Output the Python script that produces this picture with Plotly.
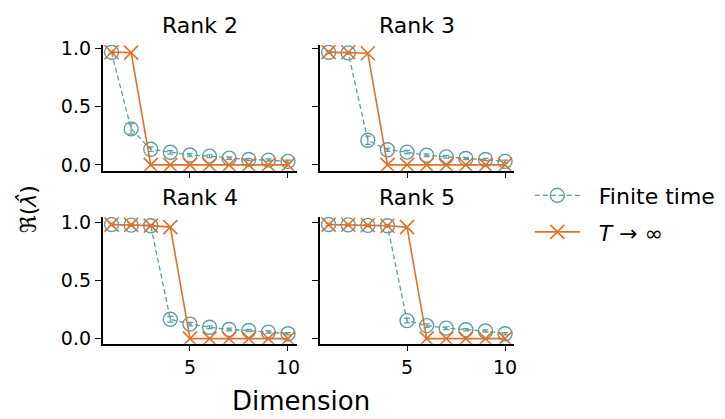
import plotly.graph_objects as go

dims = [1, 2, 3, 4, 5, 6, 7, 8, 9, 10]
titles = ["Rank 2", "Rank 3", "Rank 4", "Rank 5"]

finite_r2 = [0.97, 0.31, 0.135, 0.108, 0.085, 0.075, 0.058, 0.046, 0.041, 0.03]
finite_r3 = [0.97, 0.965, 0.212, 0.13, 0.11, 0.083, 0.069, 0.055, 0.046, 0.03]
finite_r4 = [0.985, 0.98, 0.975, 0.167, 0.125, 0.098, 0.079, 0.07, 0.056, 0.042]
finite_r5 = [0.985, 0.982, 0.978, 0.975, 0.155, 0.112, 0.09, 0.076, 0.065, 0.042]

err_r2 = [0.01, 0.045, 0.02, 0.015, 0.015, 0.012, 0.012, 0.01, 0.01, 0.01]
err_r3 = [0.01, 0.01, 0.035, 0.015, 0.015, 0.012, 0.012, 0.01, 0.01, 0.01]
err_r4 = [0.01, 0.01, 0.01, 0.025, 0.015, 0.012, 0.012, 0.01, 0.01, 0.01]
err_r5 = [0.01, 0.01, 0.01, 0.01, 0.02, 0.015, 0.012, 0.01, 0.01, 0.01]

inf_r2 = [0.97, 0.967, 0, 0, 0, 0, 0, 0, 0, 0]
inf_r3 = [0.972, 0.97, 0.962, 0, 0, 0, 0, 0, 0, 0]
inf_r4 = [0.985, 0.982, 0.976, 0.963, 0, 0, 0, 0, 0, 0]
inf_r5 = [0.985, 0.983, 0.979, 0.975, 0.963, 0, 0, 0, 0, 0]

finite = [finite_r2, finite_r3, finite_r4, finite_r5]
errs = [err_r2, err_r3, err_r4, err_r5]
infs = [inf_r2, inf_r3, inf_r4, inf_r5]

TEAL = "#5F9EA0"
ORANGE = "#E0702A"
FONT = "DejaVu Sans"
W, H = 725, 419
OFF = 8  # page body margin offset


def px(x):
    return (x - OFF) / W


def py(y):
    return 1 - (y - OFF) / H


# page-pixel domains
xdoms = [(103, 298), (321, 516)]
ydoms = [(38, 168), (216, 347)]
yranges = [[-0.05, 1.033], [-0.044, 1.05]]

fig = go.Figure()
layout = {}
for i in range(4):
    r, c = divmod(i, 2)
    n = "" if i == 0 else str(i + 1)
    xa, ya = "x" + n, "y" + n
    fig.add_trace(go.Scatter(
        x=dims, y=finite[i], xaxis=xa, yaxis=ya, mode="lines+markers",
        name="\u00a0\u00a0Finite time", legendgroup="f", showlegend=(i == 0),
        line=dict(color=TEAL, width=1.3, dash="5px,3px"),
        marker=dict(symbol="circle-open", size=14, color=TEAL, line=dict(width=1.4)),
        error_y=dict(type="data", array=errs[i], color=TEAL, thickness=1.2, width=3),
    ))
    fig.add_trace(go.Scatter(
        x=dims, y=infs[i], xaxis=xa, yaxis=ya, mode="lines+markers",
        name="\u00a0\u00a0<i>T</i> → ∞", legendgroup="t", showlegend=(i == 0),
        line=dict(color=ORANGE, width=1.6),
        marker=dict(symbol="x-thin-open", size=14, color=ORANGE, line=dict(width=1.6, color=ORANGE)),
    ))
    x0, x1 = xdoms[c]
    y0, y1 = ydoms[r]
    layout["xaxis" + n] = dict(
        domain=[px(x0), px(x1)], range=[0.545, 10.45], anchor=ya,
        tickvals=[5, 10], showticklabels=(r == 1), ticks="outside", ticklen=6,
        tickwidth=1.3, tickcolor="black", showline=True, linecolor="black",
        linewidth=1.5, showgrid=False, zeroline=False,
        tickfont=dict(family=FONT, size=19, color="black"),
    )
    layout["yaxis" + n] = dict(
        domain=[py(y1), py(y0)], range=yranges[r], anchor=xa,
        tickvals=[0, 0.5, 1.0], tickformat=".1f", showticklabels=(c == 0),
        ticks="outside", ticklen=6, tickwidth=1.3, tickcolor="black",
        showline=True, linecolor="black", linewidth=1.5, showgrid=False,
        zeroline=False, tickfont=dict(family=FONT, size=19, color="black"),
    )

annotations = []
for i in range(4):
    r, c = divmod(i, 2)
    x0, x1 = xdoms[c]
    y0, y1 = ydoms[r]
    annotations.append(dict(
        text=titles[i], x=px((x0 + x1) / 2), y=py(y0 - 20),
        xref="paper", yref="paper", showarrow=False, xanchor="center", yanchor="middle",
        font=dict(family=FONT, size=22, color="black"),
    ))
annotations.append(dict(
    text="Dimension", x=px(302), y=py(406), xref="paper", yref="paper",
    showarrow=False, xanchor="center", yanchor="middle",
    font=dict(family=FONT, size=26, color="black"),
))
annotations.append(dict(
    text="ℜ(<i>λ̂</i>)", x=px(28), y=py(208), xref="paper", yref="paper",
    showarrow=False, xanchor="center", yanchor="middle", textangle=-90,
    font=dict(family=FONT, size=22, color="black"),
))

fig.update_layout(
    width=W, height=H, margin=dict(l=0, r=0, t=0, b=0),
    paper_bgcolor="white", plot_bgcolor="white",
    font=dict(family=FONT, color="black"),
    annotations=annotations,
    legend=dict(x=px(532), y=py(172), xanchor="left", yanchor="top",
                font=dict(family=FONT, size=22, color="black"),
                bgcolor="rgba(0,0,0,0)", tracegroupgap=5, itemwidth=45),
    **layout,
)

fig.write_html("out.html")
